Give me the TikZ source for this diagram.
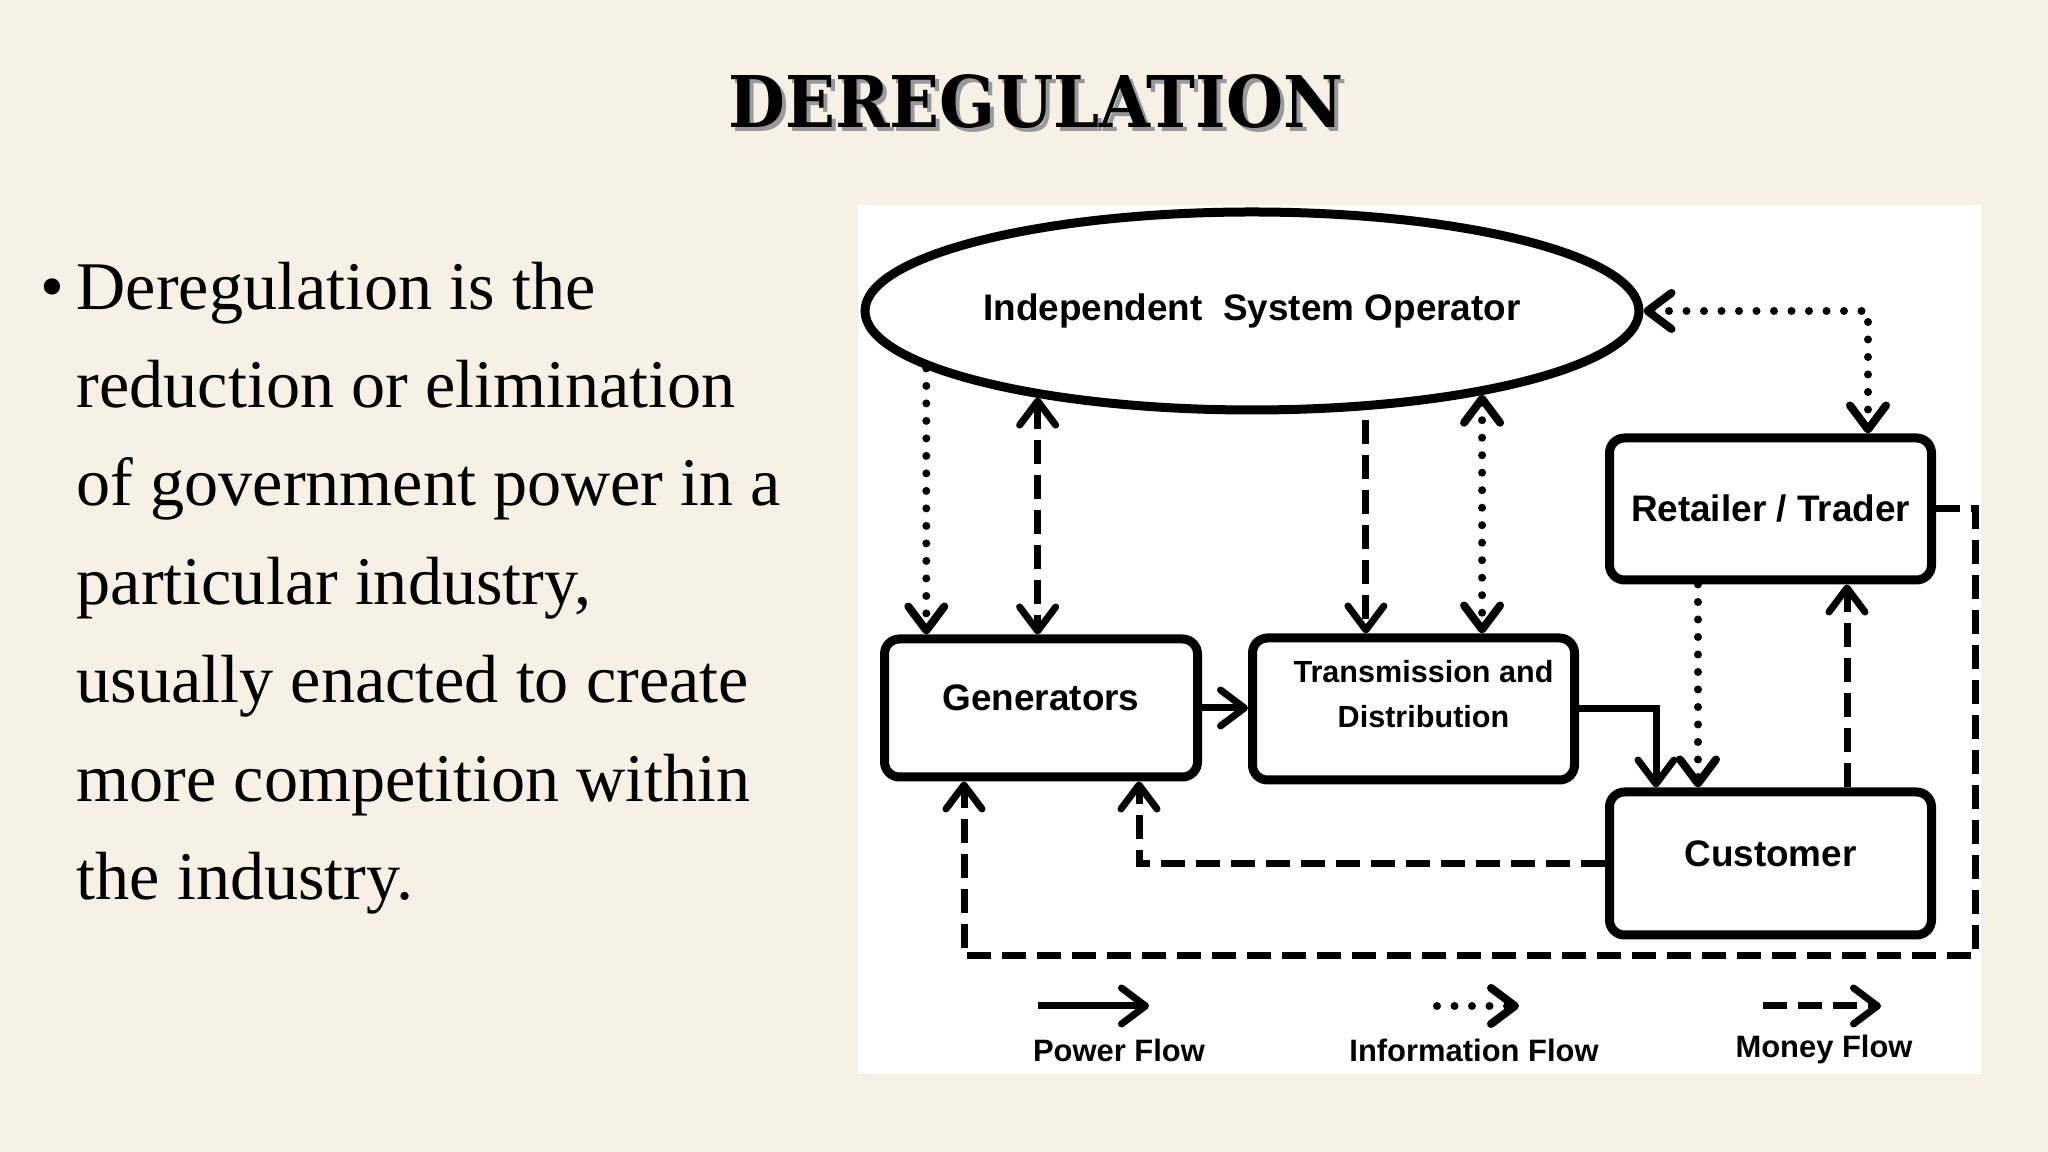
\documentclass[tikz,border=0pt]{standalone}
\usepackage{fontspec}
\setmainfont{Liberation Serif}
\newfontfamily\diafont{Liberation Sans}
\newfontfamily\titlefont{DejaVu Serif}[FakeStretch=0.92]
\usepackage{xcolor}
\usepackage{tikz}
\usetikzlibrary{positioning,arrows.meta,shapes.geometric}

\definecolor{paper}{RGB}{246,241,228}

\begin{document}
\begin{tikzpicture}[
    >={Straight Barb[length=2.4mm,width=3.6mm,round]},
    block/.style={draw, line width=0.9mm, rounded corners=1.5mm, fill=white, inner sep=0pt,
        font=\diafont\bfseries\fontsize{10.5}{12}\selectfont},
    power/.style={->, line width=0.7mm},
    info/.style={power, line width=0.8mm, line cap=round, dash pattern=on 0pt off 1.75mm},
    money/.style={power, dash pattern=on 2.4mm off 1.1mm},
    key/.style={font=\diafont\bfseries\fontsize{8.8}{10}\selectfont}
]
    \fill[paper] (0,0) rectangle (20.48,11.52);
    \useasboundingbox (0,0) rectangle (20.48,11.52);
    \fill[white] (8.58,0.78) rectangle (19.81,9.47);

    \node[anchor=base, text=gray!80, font=\titlefont\bfseries\fontsize{20.3}{24}\selectfont] (titleshade) at (10.40,10.20) {DEREGULATION};
    \node[anchor=base, font=\titlefont\bfseries\fontsize{20.3}{24}\selectfont] (title) at (10.36,10.24) {DEREGULATION};

    \node[anchor=north west, inner sep=0pt, align=left, font=\fontsize{19.4}{28}\selectfont] (defn) at (0.76,8.91)
        {\llap{\textbullet\hspace{0.12cm}}Deregulation is the\\
         reduction or elimination\\
         of government power in a\\
         particular industry,\\
         usually enacted to create\\
         more competition within\\
         the industry.};

    \node[ellipse, draw, line width=0.9mm, minimum width=7.74cm, minimum height=1.98cm, inner sep=0pt,
        font=\diafont\bfseries\fontsize{10.5}{12}\selectfont] (iso) at (12.52,8.41) {Independent\ \ System Operator};

    \node[block, minimum width=3.13cm, minimum height=1.38cm, text depth=2mm] (gen) at (10.41,4.44) {Generators};
    \node[block, minimum width=3.22cm, minimum height=1.42cm] (td) at (14.135,4.43) {};
    \node[align=center, font=\diafont\bfseries\fontsize{8.7}{13}\selectfont] (tdtext) at ([xshift=1mm,yshift=1.5mm]td.center) {Transmission and\\ Distribution};
    \node[block, minimum width=3.22cm, minimum height=1.42cm] (ret) at (17.705,6.43) {Retailer / Trader};
    \node[block, minimum width=3.22cm, minimum height=1.43cm, text depth=2mm, below=2.03cm of ret] (cus) {Customer};

    \draw[info] (iso.190) -- (iso.190 |- gen.north);
    \draw[money, <->] (iso.202) -- (iso.202 |- gen.north);
    \draw[money] ([yshift=-1mm]iso.319) -- (iso.319 |- td.north);
    \draw[info, <->] (iso.340) -- (iso.340 |- td.north);
    \draw[info, <->] (iso.east) -| ([xshift=9.75mm]ret.north);

    \draw[power] (gen.east) -- (gen.east -| td.west);
    \draw[power] (td.east) -| ([xshift=-11.45mm]cus.north);
    \draw[info] ([xshift=-7.25mm]ret.south) -- ([xshift=-7.25mm]cus.north);
    \draw[money] ([xshift=7.65mm]cus.north) -- ([xshift=7.65mm]ret.south);
    \draw[money] (cus.west) -| ([xshift=9.8mm]gen.south);
    \coordinate (edge) at (19.75,1.96);
    \draw[money] (ret.east) -| (edge) -| ([xshift=-7.7mm]gen.south);

    \coordinate (pw0) at (10.38,1.46);
    \coordinate (pw1) at (11.49,1.46);
    \coordinate (in0) at (14.37,1.46);
    \coordinate (in1) at (15.19,1.46);
    \coordinate (mo0) at (17.63,1.46);
    \coordinate (mo1) at (18.81,1.46);
    \draw[power] (pw0) -- (pw1);
    \draw[info] (in0) -- (in1);
    \draw[money] (mo0) -- (mo1);
    \node[key] (pwkey) at (11.19,1.02) {Power Flow};
    \node[key] (inkey) at (14.74,1.02) {Information Flow};
    \node[key] (mokey) at (18.24,1.02) {Money Flow};
\end{tikzpicture}
\end{document}
